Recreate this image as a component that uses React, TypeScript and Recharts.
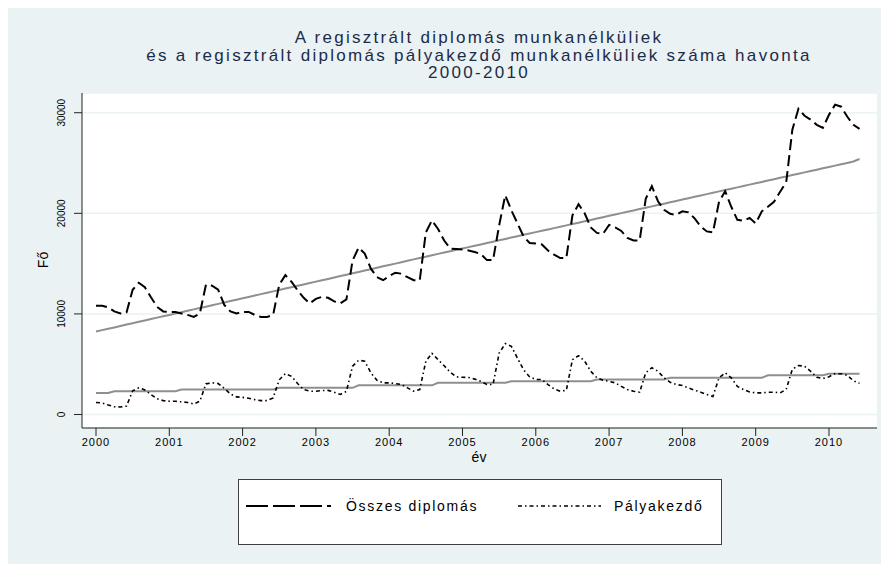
import React from 'react';
import { CartesianGrid, Legend, Line, LineChart, XAxis, YAxis } from 'recharts';

// havi adatok, 2000. január - 2010. június
const osszes = [
  10800, 10800, 10650, 10250, 10050, 10150, 12400, 13100, 12650, 11650, 10700, 10250,
  10200, 10200, 10050, 9900, 9700, 10050, 12900, 12800, 12400, 10900, 10250, 10050,
  10200, 10200, 9900, 9700, 9700, 9900, 12900, 13850, 13200, 12350, 11600, 11050,
  11500, 11700, 11600, 11250, 11050, 11450, 15300, 16600, 16000, 14500, 13650, 13350,
  13750, 14100, 14000, 13650, 13350, 13350, 18100, 19300, 18450, 17300, 16500, 16450,
  16400, 16300, 16150, 15950, 15350, 15350, 18800, 21800, 20300, 19000, 17700, 17050,
  17000, 16900, 16300, 15900, 15550, 15550, 19800, 20900, 20000, 18600, 18050, 17950,
  18850, 18600, 18250, 17550, 17300, 17300, 21450, 22700, 21200, 20350, 19950, 19850,
  20200, 20100, 19500, 18700, 18200, 18100, 21150, 22200, 20650, 19350, 19250, 19550,
  19000, 20200, 20650, 21150, 22150, 23100, 28300, 30400, 29700, 29300, 28800, 28500,
  29800, 30800, 30600, 29600, 28800, 28400,
];

const palyakezdo = [
  1200, 1150, 950, 770, 750, 850, 2350, 2650, 2450, 1980, 1560, 1380,
  1320, 1320, 1260, 1200, 1050, 1320, 3050, 3150, 3080, 2600, 2050, 1750,
  1700, 1620, 1480, 1380, 1380, 1650, 3450, 4070, 3800, 3080, 2480, 2320,
  2320, 2380, 2400, 2220, 2000, 2300, 4800, 5400, 5300, 4150, 3400, 3150,
  3150, 3080, 2980, 2650, 2320, 2480, 5300, 6080, 5450, 4850, 4200, 3750,
  3700, 3680, 3520, 3300, 2980, 2980, 6100, 7050, 6780, 5600, 4450, 3740,
  3480, 3480, 2980, 2550, 2320, 2400, 5450, 5850, 5300, 4300, 3650, 3400,
  3300, 3150, 2800, 2480, 2320, 2220, 4150, 4650, 4300, 3650, 3200, 2980,
  2880, 2650, 2420, 2220, 1980, 1800, 3650, 4150, 3650, 2800, 2480, 2250,
  2150, 2150, 2220, 2220, 2150, 2500, 4500, 4870, 4800, 4300, 3700, 3580,
  3750, 4070, 4050, 3900, 3350, 3100,
];

const osszesTrend = [
  8250, 8390, 8530, 8660, 8800, 8940, 9080, 9220, 9350, 9490, 9630, 9770,
  9900, 10030, 10170, 10310, 10450, 10590, 10720, 10860, 11000, 11140, 11280, 11410,
  11550, 11690, 11830, 11970, 12100, 12240, 12380, 12520, 12660, 12790, 12930, 13070,
  13210, 13350, 13480, 13620, 13760, 13900, 14040, 14170, 14310, 14450, 14590, 14730,
  14860, 15000, 15140, 15280, 15420, 15550, 15690, 15830, 15970, 16100, 16230, 16370,
  16500, 16640, 16780, 16910, 17050, 17180, 17320, 17450, 17590, 17720, 17860, 17990,
  18130, 18260, 18400, 18530, 18670, 18800, 18940, 19070, 19210, 19340, 19480, 19610,
  19750, 19880, 20020, 20150, 20290, 20420, 20560, 20690, 20830, 20960, 21100, 21230,
  21370, 21500, 21640, 21770, 21910, 22040, 22180, 22310, 22450, 22580, 22720, 22850,
  22990, 23120, 23260, 23390, 23530, 23660, 23800, 23930, 24070, 24200, 24340, 24470,
  24610, 24740, 24880, 25010, 25150, 25400,
];

const palyaTrend = [
  2150, 2150, 2150,
  2320, 2320, 2320, 2320, 2320, 2320, 2320, 2320, 2320, 2320, 2320,
  2480, 2480, 2480, 2480, 2480, 2480, 2480, 2480, 2480, 2480, 2480, 2480, 2480, 2480, 2480, 2480,
  2650, 2650, 2650, 2650, 2650, 2650, 2650, 2650, 2650, 2650, 2650, 2650, 2650,
  2900, 2900, 2900, 2900, 2900, 2900, 2900, 2900, 2900, 2900, 2900, 2900, 2900,
  3150, 3150, 3150, 3150, 3150, 3150, 3150, 3150, 3150, 3150, 3150, 3150,
  3300, 3300, 3300, 3300, 3300, 3300, 3300, 3300, 3300, 3300, 3300, 3300, 3300, 3300,
  3480, 3480, 3480, 3480, 3480, 3480, 3480, 3480, 3480, 3480, 3480, 3480,
  3650, 3650, 3650, 3650, 3650, 3650, 3650, 3650, 3650, 3650, 3650, 3650, 3650, 3650, 3650, 3650,
  3900, 3900, 3900, 3900, 3900, 3900, 3900, 3900, 3900, 3900,
  4050, 4050, 4050, 4050, 4050, 4050,
];

const yearTicks = [2000, 2001, 2002, 2003, 2004, 2005, 2006, 2007, 2008, 2009, 2010];
const valueTicks = [0, 10000, 20000, 30000];
const titleLines = [
  'A regisztrált diplomás munkanélküliek',
  'és a regisztrált diplomás pályakezdő munkanélküliek száma havonta',
  '2000-2010',
];
const seriesNames = ['Összes diplomás', 'Pályakezdő'];

const data = osszes.map((v, i) => ({
  ev: 2000 + i / 12,
  osszes: v,
  palya: palyakezdo[i],
  osszesTrend: osszesTrend[i],
  palyaTrend: palyaTrend[i],
}));

const BG = '#EAF2F3';
const FONT = '"Liberation Sans", Arial, sans-serif';

const YTick = ({ y, payload }: any) => (
  <text
    x={54}
    y={y}
    transform={`rotate(-90 54 ${y})`}
    textAnchor="middle"
    dominantBaseline="central"
    fontSize={10}
    fill="#000"
  >
    {payload.value}
  </text>
);

const XTick = ({ x, payload }: any) => (
  <text x={x} y={434} textAnchor="middle" dominantBaseline="central" fontSize={11} letterSpacing={1} fill="#000">
    {payload.value}
  </text>
);

const LegendBox = () => (
  <div
    style={{
      width: 484,
      height: 66,
      boxSizing: 'border-box',
      border: '1px solid #404040',
      background: '#fff',
    }}
  >
    <svg width={482} height={64} style={{ display: 'block' }}>
      <line x1={7} x2={92} y1={26} y2={26} stroke="#000" strokeWidth={2} strokeDasharray="22 5" />
      <text x={107} y={26} dominantBaseline="central" fontSize={14} letterSpacing={1.7} fill="#000">
        {seriesNames[0]}
      </text>
      <line x1={279} x2={362} y1={26} y2={26} stroke="#000" strokeWidth={1.5} strokeDasharray="4 3 1.5 3" />
      <text x={375} y={26} dominantBaseline="central" fontSize={14} letterSpacing={1.7} fill="#000">
        {seriesNames[1]}
      </text>
    </svg>
  </div>
);

export default function App() {
  return (
    <div style={{ position: 'relative', width: 881, height: 556, background: BG, fontFamily: FONT }}>
      <div
        style={{
          position: 'absolute',
          left: 71,
          top: 21,
          width: 800,
          textAlign: 'center',
          fontSize: 17,
          lineHeight: '17.5px',
          letterSpacing: 2.3,
          color: '#1c2b4a',
        }}
      >
        {titleLines.map((t) => (
          <div key={t}>{t}</div>
        ))}
      </div>
      <LineChart width={881} height={556} data={data} margin={{ top: 85, right: 12, left: 0, bottom: 96 }}>
        <CartesianGrid vertical={false} stroke={BG} strokeWidth={1.5} fill="#fff" />
        <XAxis
          dataKey="ev"
          type="number"
          domain={[1999.809, 2010.655]}
          ticks={yearTicks}
          allowDataOverflow
          height={40}
          tickSize={8}
          stroke="#222"
          tick={<XTick />}
          label={() => (
            <text x={471} y={449} textAnchor="middle" dominantBaseline="central" fontSize={14} fill="#000">
              év
            </text>
          )}
        />
        <YAxis
          type="number"
          domain={[-1340, 31960]}
          ticks={valueTicks}
          allowDataOverflow
          width={74}
          tickSize={8}
          stroke="#222"
          tick={<YTick />}
          label={() => (
            <text
              x={35}
              y={252}
              transform="rotate(-90 35 252)"
              textAnchor="middle"
              dominantBaseline="central"
              fontSize={14}
              fill="#000"
            >
              Fő
            </text>
          )}
        />
        <Legend
          layout="horizontal"
          verticalAlign="middle"
          align="center"
          wrapperStyle={{ left: 230, top: 471, width: 484, height: 66 }}
          content={<LegendBox />}
        />
        <Line
          dataKey="osszesTrend"
          type="linear"
          stroke="#8f8f8f"
          strokeWidth={2}
          dot={false}
          legendType="none"
          isAnimationActive={false}
        />
        <Line
          dataKey="palyaTrend"
          type="linear"
          stroke="#8f8f8f"
          strokeWidth={2}
          dot={false}
          legendType="none"
          isAnimationActive={false}
        />
        <Line
          dataKey="osszes"
          name={seriesNames[0]}
          type="linear"
          stroke="#000"
          strokeWidth={2}
          strokeDasharray="11 5"
          dot={false}
          isAnimationActive={false}
        />
        <Line
          dataKey="palya"
          name={seriesNames[1]}
          type="linear"
          stroke="#000"
          strokeWidth={1.6}
          strokeDasharray="4 3 1.5 3"
          dot={false}
          isAnimationActive={false}
        />
      </LineChart>
    </div>
  );
}
